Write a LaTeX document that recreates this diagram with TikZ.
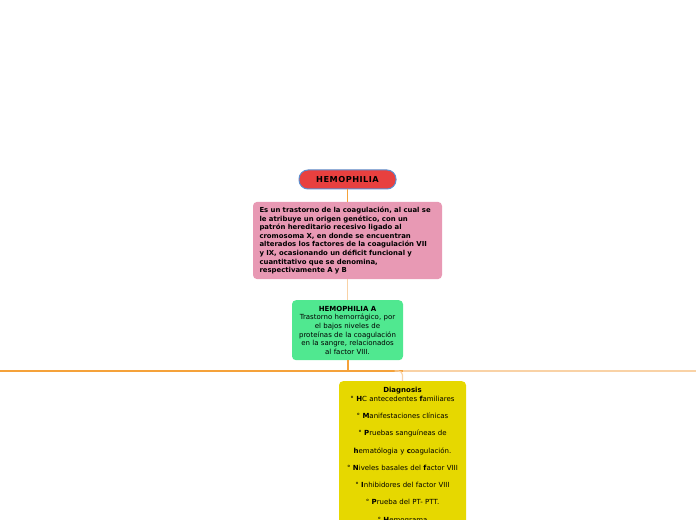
\documentclass[tikz,border=0pt]{standalone}
\usepackage{fontspec}
\setmainfont{DejaVu Sans}
\usetikzlibrary{positioning}

\definecolor{titlered}{HTML}{E8403F}
\definecolor{titleblue}{HTML}{5B8FD0}
\definecolor{introrose}{HTML}{E899B4}
\definecolor{hemogreen}{HTML}{50E890}
\definecolor{diagyellow}{HTML}{E6D800}
\definecolor{linkorange}{HTML}{F5A23A}
\definecolor{linkpale}{HTML}{F9D2A6}

\begin{document}
\begin{tikzpicture}[x=1bp, y=-1bp,
    box/.style={rounded corners=4bp, inner xsep=4bp, inner ysep=5bp,
        font=\fontsize{7bp}{8.6bp}\selectfont},
    mainline/.style={draw=linkorange, line width=1.5bp},
    subline/.style={draw=linkpale, line width=1.5bp}]
    \useasboundingbox (0,0) rectangle (696,520);
    \clip (0,0) rectangle (696,520);

    % Tema central
    \node[fill=titlered, draw=titleblue, line width=1bp, rounded corners=9bp,
        minimum width=97bp, minimum height=19bp, inner sep=0pt,
        font=\fontsize{8.2bp}{9bp}\selectfont\bfseries\addfontfeature{LetterSpace=6}]
        (title) at (347.5,179.5) {HEMOPHILIA};

    % Definicion
    \node[box, fill=introrose, text width=180bp, align=left, minimum height=77bp,
        inner xsep=4.5bp, font=\fontsize{6.9bp}{8.6bp}\selectfont\bfseries]
        (intro) at (347.5,240.5)
        {\hspace*{2bp}Es un trastorno de la coagulación, al cual se\\
        \hspace*{2bp}le atribuye un origen genético, con un\\
        \hspace*{2bp}patrón hereditario recesivo ligado al\\
        \hspace*{2bp}cromosoma X, en donde se encuentran\\
        \hspace*{2bp}alterados los factores de la coagulación VII\\
        \hspace*{2bp}y IX, ocasionando un déficit funcional y\\
        \hspace*{2bp}cuantitativo que se denomina,\\
        \hspace*{2bp}respectivamente A y B};

    % Hemofilia A
    \node[box, fill=hemogreen, text width=103bp, align=center, minimum height=60bp,
        anchor=north]
        (hemoA) at (347.5,300)
        {\textbf{HEMOPHILIA A}\\
        Trastorno hemorrágico, por\\
        el bajos niveles de\\
        proteínas de la coagulación\\
        en la sangre, relacionados\\
        al factor VIII.};

    % Diagnostico
    \node[box, fill=diagyellow, text width=119bp, align=center, anchor=north,
        inner ysep=6bp, font=\fontsize{7bp}{8.6bp}\selectfont]
        (diag) at (402.5,381)
        {\textbf{Diagnosis}\\
        ° \textbf{H}C antecedentes \textbf{f}amiliares\\[8.7bp]
        ° \textbf{M}anifestaciones clínicas\\[8.7bp]
        ° \textbf{P}ruebas sanguíneas de\\[8.7bp]
        \textbf{h}ematólogia y \textbf{c}oagulación.\\[8.7bp]
        ° \textbf{N}iveles basales del \textbf{f}actor VIII\\[8.7bp]
        ° \textbf{I}nhibidores del factor VIII\\[8.7bp]
        ° \textbf{P}rueba del PT- PTT.\\[8.7bp]
        ° \textbf{H}emograma\\[8.7bp]
        ~};

    % Conectores
    \coordinate (barL) at (0,371);
    \coordinate (barR) at (696,371);
    \draw[mainline] (title.south) -- (intro.north);
    \draw[subline] (intro.south) -- (hemoA.north);
    \draw[mainline, line width=2bp] (hemoA.south) -- (hemoA.south |- barL);
    \draw[mainline, line width=1.2bp] (barL) -- (diag.north |- barL);
    \draw[subline, line width=1.2bp] (diag.north |- barL) -- (barR);
    \draw[subline, line width=1.2bp, rounded corners=4bp]
        ([xshift=-8bp]diag.north |- barL) -| (diag.north);
\end{tikzpicture}
\end{document}
